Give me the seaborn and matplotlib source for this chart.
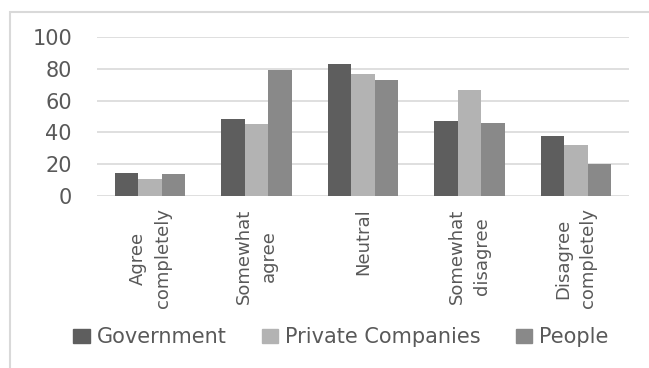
import pandas as pd
import matplotlib.pyplot as plt
import matplotlib.patches as mpatches
import seaborn as sns

categories = ['Agree\ncompletely', 'Somewhat\nagree', 'Neutral',
              'Somewhat\ndisagree', 'Disagree\ncompletely']
series = ['Government', 'Private Companies', 'People']
government = [14.5, 48.5, 83, 47, 38]
private_companies = [11, 45, 77, 66.5, 32]
people = [14, 79, 73, 46, 20]
yticks = [0, 20, 40, 60, 80, 100]

colors = ['#5e5e5e', '#b3b3b3', '#898989']
text_color = '#595959'

# long table for seaborn
rows = []
for name, vals in zip(series, [government, private_companies, people]):
    for cat, v in zip(categories, vals):
        rows.append({'Category': cat, 'Series': name, 'Value': v})
df = pd.DataFrame(rows)

sns.set_theme(style='white')
plt.rcParams['font.family'] = ['DejaVu Sans']

fig = plt.figure(figsize=(6.49, 3.68), dpi=100)
ax = fig.add_axes([97 / 649, 1 - 196 / 368, 532 / 649, 159 / 368])

sns.barplot(data=df, x='Category', y='Value', hue='Series', order=categories,
            hue_order=series, palette=colors, width=0.66, saturation=1,
            linewidth=0, ax=ax, legend=False)

ax.set_ylim(0, 100)
ax.set_yticks(yticks)
ax.yaxis.grid(True, color='#d9d9d9', linewidth=1.2)
ax.set_axisbelow(True)
for s in ax.spines.values():
    s.set_visible(False)
ax.tick_params(axis='both', length=0, colors=text_color)
ax.tick_params(axis='y', pad=18, labelsize=15)
ax.tick_params(axis='x', pad=9, labelsize=13)
ax.set_xlabel('')
ax.set_ylabel('')
plt.setp(ax.get_xticklabels(), rotation=90, ha='center', va='top',
         multialignment='center', linespacing=1.5)

# legend below the chart
handles = [mpatches.Patch(color=c, label=n) for c, n in zip(colors, series)]
leg = fig.legend(handles=handles, loc='center', bbox_to_anchor=(0.525, 0.083),
                 ncol=3, frameon=False, fontsize=15, handlelength=0.8,
                 handleheight=0.63, handletextpad=0.3, columnspacing=1.7)
for t in leg.get_texts():
    t.set_color(text_color)

# chart area border
fig.patches.append(mpatches.Rectangle((10 / 649, -0.1), 1.0, 1.1 - 12 / 368,
                                      transform=fig.transFigure, fill=False,
                                      edgecolor='#d9d9d9', linewidth=1.5))

fig.savefig('out.png', dpi=100)
